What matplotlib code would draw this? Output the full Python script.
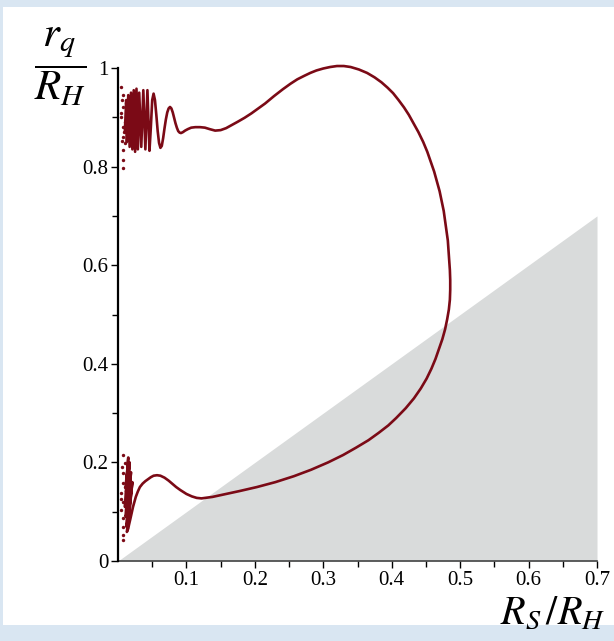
import matplotlib
matplotlib.use("Agg")
import matplotlib.pyplot as plt
from matplotlib.patches import Rectangle

plt.rcParams['font.family'] = ['Liberation Serif', 'DejaVu Serif']
plt.rcParams['mathtext.fontset'] = 'stix'

# curve r_q/R_H against R_S/R_H, in pieces
# upper oscillations next to the axis
osc_top_x = [0.010, 0.012, 0.013, 0.015, 0.017, 0.019, 0.021, 0.023, 0.025, 0.027,
             0.029, 0.031, 0.034, 0.037, 0.040, 0.043, 0.046, 0.048, 0.050]
osc_top_y = [0.870, 0.935, 0.850, 0.945, 0.840, 0.950, 0.835, 0.955, 0.830, 0.958,
             0.835, 0.950, 0.840, 0.955, 0.835, 0.955, 0.832, 0.880, 0.935]
# upper wave
wave_top_x = [0.052, 0.054, 0.056, 0.058, 0.060, 0.062, 0.064, 0.066, 0.068, 0.070,
              0.072, 0.074, 0.076, 0.078, 0.080, 0.082, 0.084, 0.086, 0.088, 0.090,
              0.092, 0.095, 0.098, 0.102, 0.107, 0.113, 0.120, 0.127, 0.134]
wave_top_y = [0.948, 0.935, 0.905, 0.872, 0.848, 0.838, 0.842, 0.858, 0.878, 0.896,
              0.910, 0.918, 0.921, 0.918, 0.910, 0.899, 0.888, 0.879, 0.872, 0.869,
              0.868, 0.870, 0.873, 0.876, 0.879, 0.880, 0.880, 0.879, 0.876]
# big loop, top arc
arc_x = [0.142, 0.150, 0.158, 0.166, 0.175, 0.185, 0.195, 0.205, 0.215, 0.228,
         0.241, 0.252, 0.262, 0.272, 0.281, 0.290, 0.300, 0.310, 0.320, 0.330,
         0.340, 0.352, 0.364, 0.375, 0.385, 0.394, 0.402, 0.410, 0.418, 0.425]
arc_y = [0.873, 0.874, 0.878, 0.884, 0.891, 0.899, 0.908, 0.918, 0.928, 0.943,
         0.957, 0.968, 0.977, 0.984, 0.990, 0.995, 0.999, 1.002, 1.004, 1.004,
         1.002, 0.997, 0.990, 0.981, 0.971, 0.960, 0.949, 0.935, 0.920, 0.905]
# right side
side_x = [0.431, 0.439, 0.446, 0.452, 0.457, 0.462, 0.466, 0.470, 0.473, 0.476,
          0.478, 0.480, 0.482, 0.483, 0.484, 0.485, 0.4855, 0.4855, 0.485, 0.4835,
          0.481, 0.478, 0.474, 0.469, 0.464, 0.458]
side_y = [0.890, 0.870, 0.850, 0.830, 0.810, 0.790, 0.770, 0.750, 0.730, 0.710,
          0.690, 0.670, 0.650, 0.630, 0.610, 0.590, 0.570, 0.550, 0.530, 0.510,
          0.490, 0.470, 0.450, 0.430, 0.410, 0.390]
# lower arc
low_x = [0.451, 0.4425, 0.4325, 0.4205, 0.4065, 0.395, 0.381, 0.366, 0.348, 0.329,
         0.307, 0.282, 0.257, 0.230, 0.203, 0.178, 0.155, 0.138, 0.128, 0.122]
low_y = [0.370, 0.350, 0.330, 0.310, 0.290, 0.275, 0.260, 0.245, 0.230, 0.215,
         0.200, 0.185, 0.172, 0.160, 0.150, 0.142, 0.135, 0.130, 0.128, 0.127]
# lower wave
wave_bot_x = [0.115, 0.108, 0.100, 0.091, 0.085, 0.080, 0.074, 0.068, 0.062, 0.057,
              0.052, 0.048, 0.044, 0.040, 0.036, 0.032, 0.029, 0.026, 0.024, 0.022,
              0.020, 0.018, 0.016, 0.015, 0.013]
wave_bot_y = [0.128, 0.131, 0.136, 0.144, 0.150, 0.156, 0.163, 0.169, 0.173, 0.174,
              0.173, 0.170, 0.166, 0.162, 0.157, 0.150, 0.141, 0.130, 0.120, 0.110,
              0.097, 0.085, 0.073, 0.066, 0.059]
# lower oscillations next to the axis
osc_bot_x = [0.021, 0.016, 0.012, 0.019, 0.014, 0.011, 0.017, 0.013, 0.010, 0.015,
             0.012, 0.014, 0.011]
osc_bot_y = [0.160, 0.090, 0.070, 0.180, 0.100, 0.090, 0.200, 0.120, 0.110, 0.210,
             0.140, 0.190, 0.150]

# scattered numerical points near the axis
dots_x = [0.005, 0.008, 0.007, 0.005, 0.010, 0.007, 0.008, 0.010, 0.008, 0.007,
          0.008, 0.011, 0.006, 0.009, 0.004, 0.006,
          0.008, 0.010, 0.007, 0.008, 0.005, 0.008, 0.005, 0.008, 0.007, 0.008,
          0.008, 0.010, 0.006, 0.004]
dots_y = [0.962, 0.945, 0.921, 0.908, 0.891, 0.881, 0.861, 0.848, 0.834, 0.813,
          0.797, 0.930, 0.935, 0.870, 0.900, 0.852,
          0.215, 0.198, 0.178, 0.158, 0.137, 0.120, 0.103, 0.087, 0.069, 0.053,
          0.043, 0.150, 0.190, 0.125]

x_ticks = [0.1, 0.2, 0.3, 0.4, 0.5, 0.6, 0.7]
y_ticks = [0, 0.2, 0.4, 0.6, 0.8, 1]
y_labels = ['0', '0.2', '0.4', '0.6', '0.8', '1']

curve_x = osc_top_x + wave_top_x + arc_x + side_x + low_x + wave_bot_x + osc_bot_x
curve_y = osc_top_y + wave_top_y + arc_y + side_y + low_y + wave_bot_y + osc_bot_y

dark_red = '#7b0a16'

fig = plt.figure(figsize=(6.14, 6.41), dpi=100)
fig.patch.set_facecolor('#d9e6f2')
fig.patches.append(Rectangle((3 / 614, 16 / 641), 611 / 614, 618 / 641,
                             transform=fig.transFigure, facecolor='white',
                             edgecolor='none', zorder=-5))

ax = fig.add_axes([118 / 614, 80 / 641, 479 / 614, 493 / 641])
ax.set_zorder(2)
ax.set_facecolor('none')

ax.fill_between([0, 0.7], [0, 0], [0, 0.7], color='#d9dbdb', lw=0, zorder=1)
ax.plot(curve_x, curve_y, color=dark_red, lw=1.9, zorder=3,
        solid_joinstyle='round', clip_on=False)
ax.scatter(dots_x, dots_y, s=6, color=dark_red, lw=0, zorder=3, clip_on=False)

ax.set_xlim(0, 0.7)
ax.set_ylim(0, 1)
ax.set_xticks(x_ticks)
ax.set_xticklabels([str(t) for t in x_ticks])
ax.set_xticks([0.05, 0.15, 0.25, 0.35, 0.45, 0.55, 0.65], minor=True)
ax.set_yticks(y_ticks)
ax.set_yticklabels(y_labels)
ax.set_yticks([0.1, 0.3, 0.5, 0.7, 0.9], minor=True)
ax.tick_params(which='both', direction='out', labelsize=15, width=1, pad=2)
ax.tick_params(which='major', length=5)
ax.tick_params(which='minor', length=4)

for s in ['top', 'right']:
    ax.spines[s].set_visible(False)
ax.spines['left'].set_linewidth(1.6)
ax.spines['bottom'].set_color('#444444')
ax.spines['bottom'].set_linewidth(1.2)
ax.spines['left'].set_zorder(4)

fig.text(60 / 614, 1 - 67 / 641, r'$\dfrac{r_q}{R_H}$', fontsize=31,
         ha='center', va='center', zorder=3)
fig.text(553 / 614, 1 - 614 / 641, r'$R_S\,/R_H$', fontsize=29,
         ha='center', va='center', zorder=3)

fig.savefig('out.png', dpi=100)
